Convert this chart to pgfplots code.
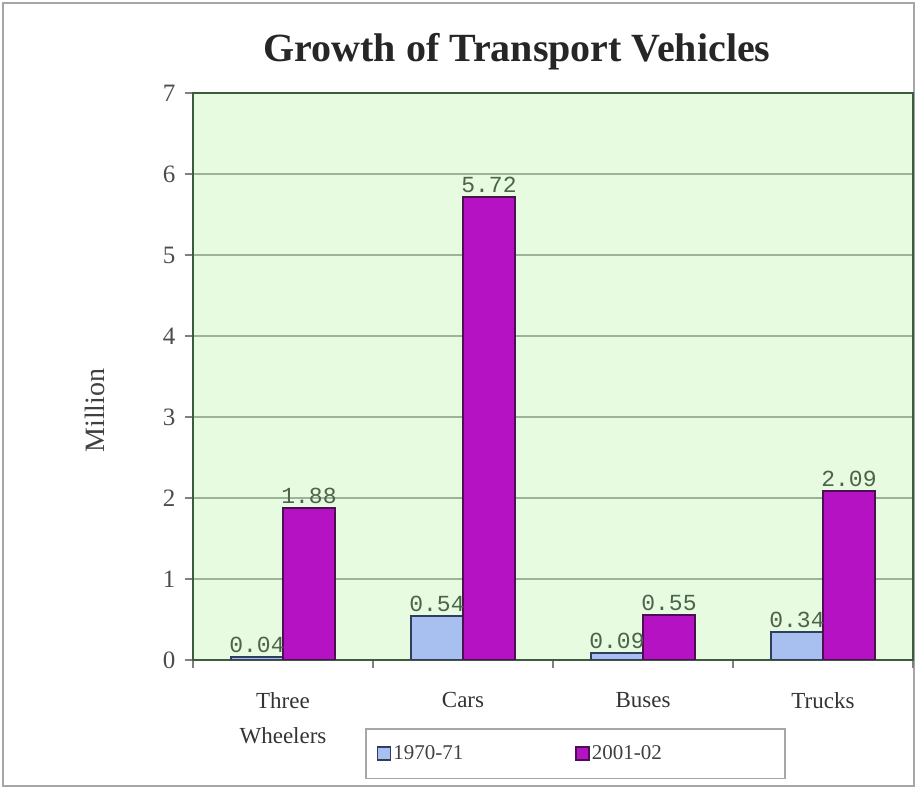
\documentclass[border=0pt]{standalone}
\usepackage{pgfplots}
\pgfplotsset{compat=1.18}
\usepackage{fontspec}
\setmainfont{Liberation Serif}
\setmonofont{Liberation Mono}
\definecolor{bgc}{HTML}{E6FBDF}
\definecolor{bluef}{HTML}{A8C0F0}
\definecolor{blued}{HTML}{2E3E5C}
\definecolor{magf}{HTML}{B412C2}
\definecolor{magd}{HTML}{4A1050}
\definecolor{gridc}{HTML}{9CB49C}
\definecolor{labc}{HTML}{4C634C}
\begin{document}
\begin{tikzpicture}
\useasboundingbox (-193pt,-129pt) rectangle (723pt,660pt);
\draw[gray!70, line width=2pt] (-190pt,-126pt) rectangle (721pt,657pt);
\begin{axis}[
  at={(0pt,0pt)}, anchor=south west,
  scale only axis, width=720pt, height=567pt,
  ybar=0pt, bar width=52pt,
  xmin=-0.5, xmax=3.5, ymin=0, ymax=7,
  xtick={0,1,2,3},
  xticklabels={{Three\\Wheelers},Cars,Buses,Trucks},
  x tick label style={align=center, font=\fontsize{23}{35}\selectfont, text=black!80, yshift=-21pt},
  major x tick style={draw=none},
  minor xtick={-0.5,0.5,1.5,2.5,3.5},
  minor tick length=8pt,
  minor x tick style={gray, line width=1.2pt},
  ytick={0,1,...,7},
  y tick label style={font=\fontsize{25}{28}\selectfont, text=black!70, xshift=-6pt},
  /pgf/number format/assume math mode=true,
  major tick length=8pt,
  tick align=outside, tick pos=left,
  ytick style={gray, line width=1.2pt},
  ymajorgrids, grid style={gridc, line width=1.5pt},
  axis background/.style={fill=bgc},
  axis line style={gray!80!green!60!black, line width=1.5pt},
  ylabel={Million},
  ylabel style={font=\fontsize{28}{32}\selectfont, text=black!75, at={(axis description cs:-0.136,0.44)}, anchor=center},
  nodes near coords,
  nodes near coords style={font=\ttfamily\fontsize{23}{25}\selectfont, text=labc, /pgf/number format/fixed, /pgf/number format/precision=2, /pgf/number format/fixed zerofill, /pgf/number format/assume math mode=true},
  legend style={at={(axis description cs:0.239,-0.12)}, anchor=north west,
    draw=gray!70, line width=1.5pt, fill=white,
    font=\fontsize{21}{24}\selectfont, text=black!75,
    nodes={text width=180pt, align=left}, inner xsep=11pt, inner ysep=15pt},
  legend columns=2,
  legend image code/.code={\draw[#1, line width=1.5pt] (0pt,-6.5pt) rectangle (13pt,6.5pt);},
]
\addplot[fill=bluef, draw=blued, line width=2pt] coordinates {(0,0.04) (1,0.54) (2,0.09) (3,0.34)};
\addplot[fill=magf, draw=magd, line width=2pt] coordinates {(0,1.88) (1,5.72) (2,0.55) (3,2.09)};
\legend{1970-71, 2001-02}
\end{axis}
\node[font=\bfseries\fontsize{40}{46}\selectfont, text=black!85] at (324pt,608pt) {Growth of Transport Vehicles};
\end{tikzpicture}
\end{document}
